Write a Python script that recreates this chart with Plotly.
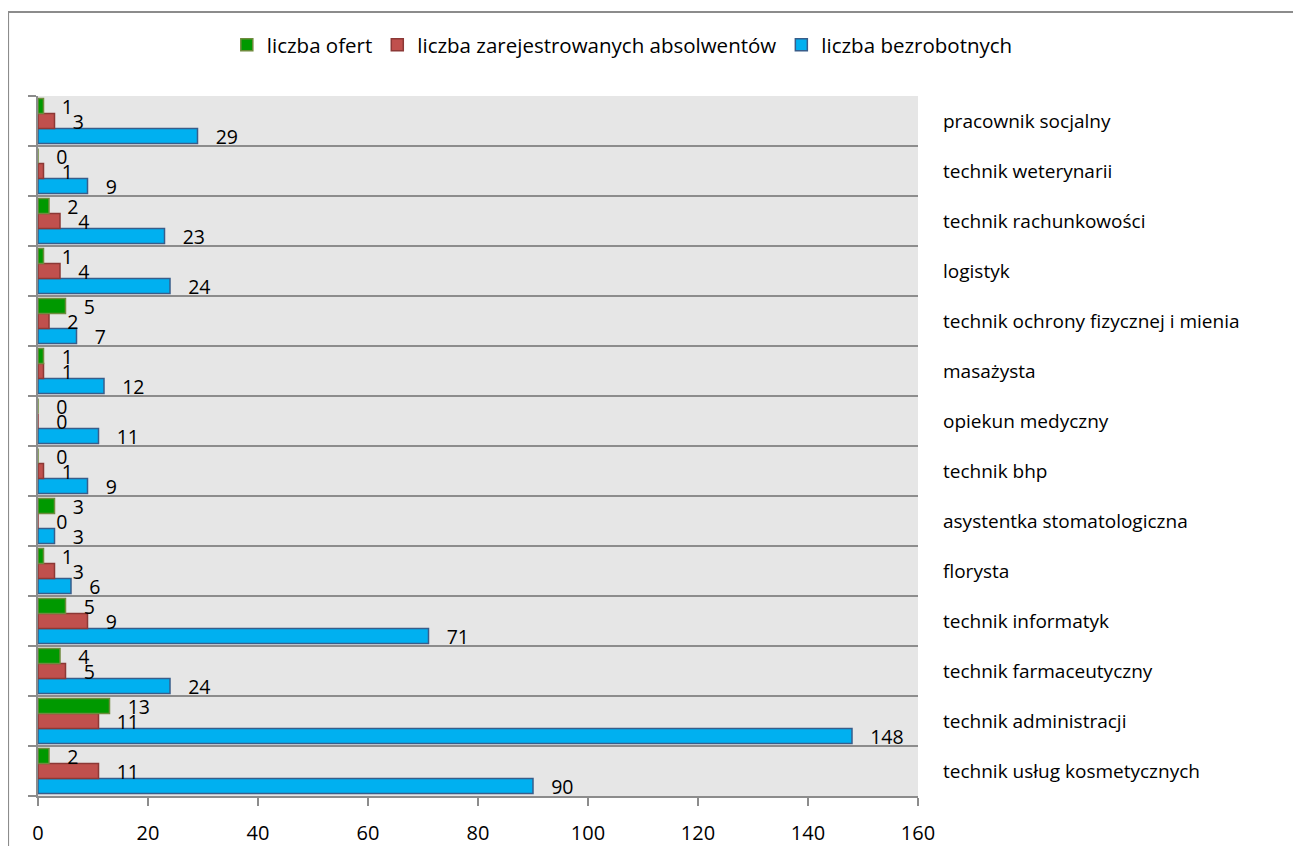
import plotly.graph_objects as go

categories = [
    "technik usług kosmetycznych",
    "technik administracji",
    "technik farmaceutyczny",
    "technik informatyk",
    "florysta",
    "asystentka stomatologiczna",
    "technik bhp",
    "opiekun medyczny",
    "masażysta",
    "technik ochrony fizycznej i mienia",
    "logistyk",
    "technik rachunkowości",
    "technik weterynarii",
    "pracownik socjalny",
]
liczba_ofert = [2, 13, 4, 5, 1, 3, 0, 0, 1, 5, 1, 2, 0, 1]
liczba_absolwentow = [11, 11, 5, 9, 3, 0, 1, 0, 1, 2, 4, 4, 1, 3]
liczba_bezrobotnych = [90, 148, 24, 71, 6, 3, 9, 11, 12, 7, 24, 23, 9, 29]
x_ticks = [0, 20, 40, 60, 80, 100, 120, 140, 160]

FONT = "Open Sans"
series = [
    ("liczba bezrobotnych", liczba_bezrobotnych, "#00B0F0", "#385D8A"),
    ("liczba zarejestrowanych absolwentów", liczba_absolwentow, "#C0504D", "#8C3836"),
    ("liczba ofert", liczba_ofert, "#009900", "#6E8B3D"),
]

fig = go.Figure()
for name, vals, fill, edge in series:
    fig.add_trace(go.Bar(
        name=name, y=categories, x=vals, orientation="h",
        marker=dict(color=fill, line=dict(color=edge, width=1.5)),
        text=vals, texttemplate="   %{x}", textposition="outside",
        textfont=dict(family=FONT, size=19.5, color="black"),
        constraintext="none", cliponaxis=False,
    ))

# invisible trace to carry the right-hand category labels
fig.add_trace(go.Scatter(
    x=[0] * len(categories), y=categories, yaxis="y2", mode="markers",
    marker=dict(opacity=0), showlegend=False, hoverinfo="skip",
))

fig.update_layout(
    width=1293, height=838,
    margin=dict(l=30, r=383, t=88, b=50, autoexpand=False),
    paper_bgcolor="white", plot_bgcolor="#E6E6E6",
    barmode="group", bargap=0.1, bargroupgap=0,
    font=dict(family=FONT, size=19, color="black"),
    showlegend=True,
    legend=dict(orientation="h", traceorder="reversed", x=0.664, xanchor="center",
                y=1.073, yanchor="middle", font=dict(family=FONT, size=20.5),
                itemwidth=30, bgcolor="rgba(0,0,0,0)"),
    xaxis=dict(range=[0, 160], tickvals=x_ticks, showgrid=False, zeroline=False,
               showline=True, linecolor="#8C8C8C", linewidth=1.5,
               ticks="outside", ticklen=8, tickcolor="#8C8C8C", tickwidth=1.5,
               ticklabelstandoff=10, tickfont=dict(family=FONT, size=20),
               automargin=False),
    yaxis=dict(type="category", categoryorder="array", categoryarray=categories,
               range=[-0.5, len(categories) - 0.5], tickson="boundaries",
               showticklabels=False, ticks="outside", ticklen=8,
               tickcolor="#8C8C8C", tickwidth=1.5,
               showgrid=True, gridcolor="#8C8C8C", gridwidth=1.5,
               showline=True, linecolor="#8C8C8C", linewidth=1.5, zeroline=False,
               automargin=False),
    yaxis2=dict(type="category", categoryorder="array", categoryarray=categories,
                range=[-0.5, len(categories) - 0.5], overlaying="y", side="right",
                showgrid=False, showline=False, ticks="", ticklabelstandoff=24,
                tickfont=dict(family=FONT, size=19), zeroline=False,
                automargin=False),
    shapes=[dict(type="rect", xref="paper", yref="paper",
                 x0=-0.034, y0=-0.3, x1=1.6, y1=1.12,
                 line=dict(color="#8C8C8C", width=2), fillcolor="rgba(0,0,0,0)",
                 layer="below")],
)

fig.write_html("out.html")
